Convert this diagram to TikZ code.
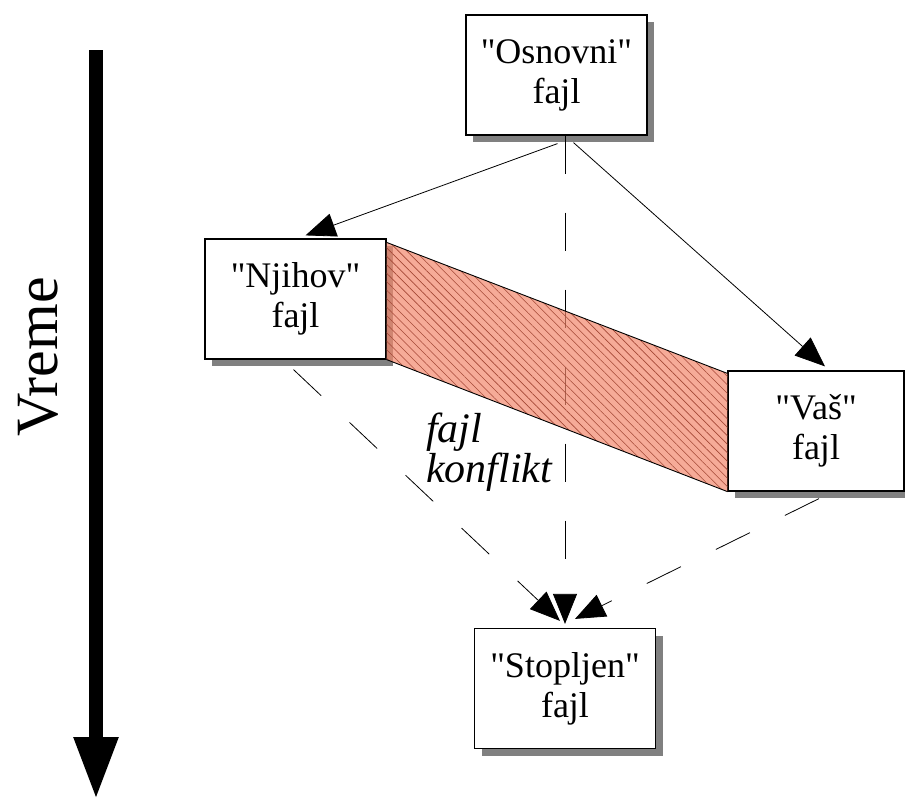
\documentclass[tikz,border=0pt]{standalone}
\usepackage{fontspec}
\setmainfont{Liberation Serif}[Ligatures=TeXOff]
\usetikzlibrary{arrows.meta,shadows,patterns.meta,calc}
\definecolor{konfliktfill}{RGB}{242,136,108}
\definecolor{konfliktline}{RGB}{165,72,55}

\begin{document}
\begin{tikzpicture}[x=1pt, y=-1pt,
                    file node/.style={rectangle,draw,fill=white,line width=1.2pt,
                      minimum width=181pt,minimum height=120pt,align=center,
                      font=\fontsize{36}{40}\selectfont,
                      drop shadow={shadow xshift=7pt,shadow yshift=-7pt,fill=black!50,opacity=1}},
                    tok/.style={line width=0.8pt,-{Triangle[length=30pt,width=24pt]}},
                    spoj/.style={tok,dash pattern=on 38pt off 39pt}]

  \useasboundingbox (0,0) rectangle (905,803);

  \node[file node] (osn) at (556.5,75) {"Osnovni"\\fajl};
  \node[file node] (nj) at (295.5,299) {"Njihov"\\fajl};
  \node[file node,minimum width=176pt] (vas) at (816,431) {"Vaš"\\fajl};
  \node[file node] (stop) at (565,688.5) {"Stopljen"\\fajl};

  \node[align=left,font=\itshape\fontsize{42}{38}\selectfont] (konf) at (489,452) {fajl\\konflikt};
  \node[rotate=90,font=\fontsize{60}{60}\selectfont] (vreme) at (38,357) {Vreme};

  % vremenska osa
  \coordinate (vpoc) at (96,50);
  \coordinate (vkraj) at (96,800);
  \draw[line width=14pt,-{Triangle[length=63pt,width=41pt]}] (vpoc) -- (vkraj);

\path[tok]
    ($(osn.south)+(1,8)$) edge ($(nj.north)+(10,-3)$)
    ($(osn.south)+(17,7)$) edge ($(vas.north)+(9,-4)$);

\path[spoj]
    (stop.north |- osn.south) edge ($(stop.north)+(0,-4)$)
    ($(nj.south)+(-2,10)$) edge ($(stop.north)+(-5,-7)$)
    ($(vas.south)+(3,7)$) edge ($(stop.north)+(10,-9)$);

  % konflikt
  \fill[konfliktfill,fill opacity=0.7]
    ($(nj.north east)+(0,4)$) -- ($(vas.north west)+(0,3)$) -- (vas.south west) -- (nj.south east) -- cycle;
  \fill[pattern={Lines[angle=-45,distance=6pt,line width=0.6pt]},pattern color=konfliktline]
    ($(nj.north east)+(0,4)$) -- ($(vas.north west)+(0,3)$) -- (vas.south west) -- (nj.south east) -- cycle;
  \draw[line width=0.9pt] ($(nj.north east)+(0,4)$) -- ($(vas.north west)+(0,3)$);
  \draw[line width=0.9pt] (nj.south east) -- (vas.south west);

\end{tikzpicture}
\end{document}
